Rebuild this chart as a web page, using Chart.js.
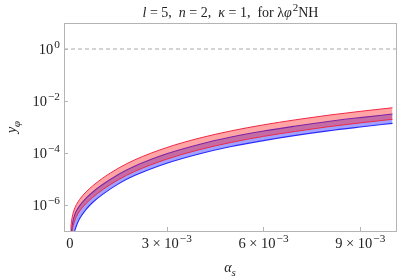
<!DOCTYPE html>
<html>
<head>
<meta charset="utf-8">
<script src="https://cdn.jsdelivr.net/npm/chart.js@4.4.1/dist/chart.umd.min.js"></script>
<style>
  html, body { margin: 0; padding: 0; background: #fff; }
  #wrap { width: 399px; height: 280px; }
</style>
</head>
<body>
<div id="wrap"><canvas id="chart"></canvas></div>
<script>
// alpha_s values where the curves were read
const alphaS = [1e-5, 2e-5, 4e-5, 7e-5, 1e-4, 1.5e-4, 2e-4, 3e-4, 5e-4, 7e-4, 1e-3,
  1.5e-3, 2e-3, 3e-3, 4e-3, 5e-3, 6e-3, 7e-3, 8e-3, 9e-3, 1e-2];

// red band (upper / lower edge)
const redUpper = [5.0e-8, 1.0e-7, 2.0e-7, 3.5e-7, 5.05e-7, 7.7e-7, 1.04e-6, 1.65e-6, 3.2e-6, 5.4e-6, 1.05e-5,
  2.6e-5, 5.4e-5, 1.62e-4, 3.7e-4, 7.1e-4, 1.21e-3, 1.9e-3, 2.83e-3, 4.0e-3, 5.5e-3];
const redLower = [8e-9, 2e-8, 5e-8, 1.05e-7, 1.6e-7, 2.55e-7, 3.6e-7, 5.9e-7, 1.15e-6, 1.94e-6, 3.8e-6,
  9.4e-6, 1.94e-5, 5.8e-5, 1.33e-4, 2.56e-4, 4.36e-4, 6.8e-4, 1.02e-3, 1.44e-3, 1.98e-3];

// blue band (upper / lower edge)
const blueUpper = [1.5e-8, 3.5e-8, 8.5e-8, 1.7e-7, 2.7e-7, 4.3e-7, 6.0e-7, 9.5e-7, 1.84e-6, 3.1e-6, 6.0e-6,
  1.5e-5, 3.1e-5, 9.3e-5, 2.13e-4, 4.1e-4, 7.0e-4, 1.09e-3, 1.63e-3, 2.3e-3, 3.16e-3];
const blueLower = [2e-9, 5e-9, 1.5e-8, 3.5e-8, 6e-8, 1.05e-7, 1.6e-7, 3.0e-7, 6.8e-7, 1.25e-6, 2.5e-6,
  6.5e-6, 1.35e-5, 4.05e-5, 9.2e-5, 1.78e-4, 3.0e-4, 4.75e-4, 7.1e-4, 1.0e-3, 1.38e-3];

// axes
const xRange = [-1.86e-4, 1.014e-2];
const yRange = [1e-7, 10];
const xTicks = [0, 3e-3, 6e-3, 9e-3];
const xTickLabels = [["0", ""], ["3 × 10", "−3"], ["6 × 10", "−3"], ["9 × 10", "−3"]];
const yTicks = [1, 1e-2, 1e-4, 1e-6];
const yTickLabels = [["10", "0"], ["10", "−2"], ["10", "−4"], ["10", "−6"]];
const refLevel = 1;

const serif = "'Liberation Serif', 'DejaVu Serif', serif";
const pts = (ys) => alphaS.map((a, i) => ({ x: a, y: ys[i] }));

const redLine = "rgb(240, 40, 70)";
const blueLine = "rgb(40, 40, 255)";
const redFill = "rgba(255, 30, 30, 0.4)";
const blueFill = "rgba(30, 30, 255, 0.42)";

// draws text made of pieces (italic / superscript / subscript)
function drawRich(ctx, parts, x, y, size, align) {
  const fontOf = (p) => (p.i ? "italic " : "") + ((p.sup || p.sub) ? size * 0.78 : size) + "px " + serif;
  const gap = (p) => (p.sup ? 1 : 0);
  let total = 0;
  parts.forEach((p) => { ctx.font = fontOf(p); total += ctx.measureText(p.t).width + gap(p); });
  let cx = align === "center" ? x - total / 2 : align === "right" ? x - total : x;
  ctx.textAlign = "left";
  ctx.textBaseline = "alphabetic";
  parts.forEach((p) => {
    ctx.font = fontOf(p);
    cx += gap(p);
    const dy = p.sup ? -size * 0.42 : p.sub ? size * 0.25 : 0;
    ctx.fillText(p.t, cx, y + dy);
    cx += ctx.measureText(p.t).width;
  });
}

const framePlugin = {
  id: "frame",
  afterDatasetsDraw(chart) {
    const { ctx, chartArea: a, scales } = chart;
    ctx.save();
    ctx.strokeStyle = "#b4b4b4";
    ctx.lineWidth = 1;
    ctx.strokeRect(a.left + 0.5, a.top + 0.5, a.right - a.left - 1, a.bottom - a.top);
    ctx.beginPath();
    xTicks.forEach((v) => {
      const px = Math.round(scales.x.getPixelForValue(v)) + 0.5;
      ctx.moveTo(px, a.bottom); ctx.lineTo(px, a.bottom - 4);
    });
    yTicks.forEach((v) => {
      const py = Math.round(scales.y.getPixelForValue(v)) + 0.5;
      ctx.moveTo(a.left, py); ctx.lineTo(a.left + 4, py);
    });
    ctx.stroke();

    ctx.fillStyle = "#222";
    xTicks.forEach((v, i) => {
      const px = scales.x.getPixelForValue(v);
      const [b, s] = xTickLabels[i];
      const parts = [{ t: b }];
      if (s) parts.push({ t: s, sup: true });
      drawRich(ctx, parts, px, 248, 14.5, "center");
    });
    yTicks.forEach((v, i) => {
      const py = scales.y.getPixelForValue(v);
      const [b, s] = yTickLabels[i];
      drawRich(ctx, [{ t: b }, { t: s, sup: true }], a.left - 4, py + 5, 14.5, "right");
    });

    // title
    drawRich(ctx, [
      { t: "l", i: true }, { t: " = 5,  " },
      { t: "n", i: true }, { t: " = 2,  " },
      { t: "κ", i: true }, { t: " = 1,  for λ" },
      { t: "φ", i: true }, { t: "2", sup: true }, { t: "NH" }
    ], (a.left + a.right) / 2, 17, 14, "center");

    // axis titles
    drawRich(ctx, [{ t: "α", i: true }, { t: "s", i: true, sub: true }], 230, 272, 14, "center");
    ctx.translate(16, 127);
    ctx.rotate(-Math.PI / 2);
    drawRich(ctx, [{ t: "y", i: true }, { t: "φ", i: true, sub: true }], 0, 0, 14, "center");
    ctx.restore();
  }
};

new Chart(document.getElementById("chart"), {
  type: "line",
  data: {
    datasets: [
      {
        label: "ref",
        data: [{ x: xRange[0], y: refLevel }, { x: xRange[1], y: refLevel }],
        borderColor: "#a8a8a8",
        borderWidth: 1,
        borderDash: [4, 3],
        fill: false,
      },
      {
        label: "red lower",
        data: pts(redLower),
        borderColor: redLine,
        borderWidth: 1,
        fill: false,
      },
      {
        label: "red upper",
        data: pts(redUpper),
        borderColor: redLine,
        borderWidth: 1,
        backgroundColor: redFill,
        fill: "-1",
      },
      {
        label: "blue lower",
        data: pts(blueLower),
        borderColor: blueLine,
        borderWidth: 1.1,
        fill: false,
      },
      {
        label: "blue upper",
        data: pts(blueUpper),
        borderColor: blueLine,
        borderWidth: 1.1,
        backgroundColor: blueFill,
        fill: "-1",
      },
    ],
  },
  options: {
    responsive: true,
    maintainAspectRatio: false,
    animation: false,
    events: [],
    elements: {
      point: { radius: 0 },
      line: { tension: 0.4, cubicInterpolationMode: "monotone" },
    },
    layout: { padding: { top: 23, right: 2, left: 0, bottom: 0 } },
    scales: {
      x: {
        type: "linear",
        min: xRange[0],
        max: xRange[1],
        afterFit: (s) => { s.height = 49; },
        ticks: { display: false },
        grid: { display: false },
        border: { display: false },
      },
      y: {
        type: "logarithmic",
        min: yRange[0],
        max: yRange[1],
        afterFit: (s) => { s.width = 64; },
        ticks: { display: false },
        grid: { display: false },
        border: { display: false },
      },
    },
    plugins: {
      legend: { display: false },
      title: { display: false },
      tooltip: { enabled: false },
    },
  },
  plugins: [framePlugin],
});
</script>
</body>
</html>
